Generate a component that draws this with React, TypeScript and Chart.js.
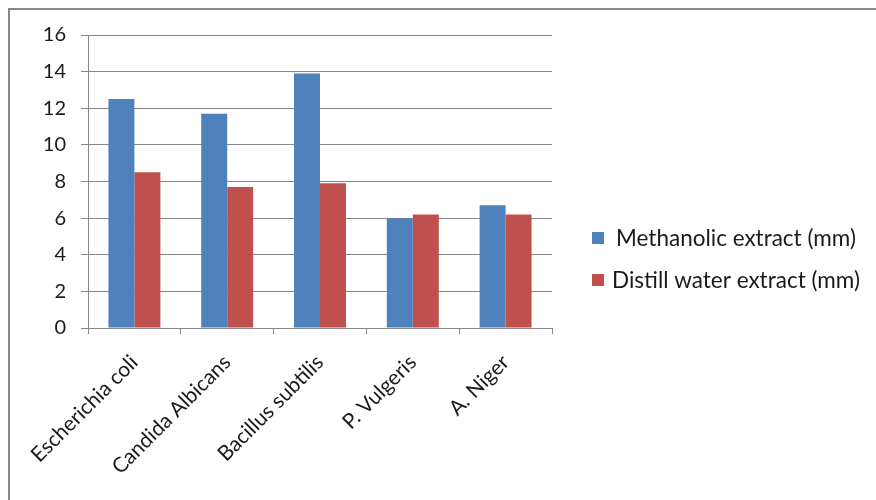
import React, { useEffect, useRef } from "react";
import { Chart, registerables } from "chart.js";

Chart.register(...registerables);

const categories = ["Escherichia coli", "Candida Albicans", "Bacillus subtilis", "P. Vulgeris", "A. Niger"];
const methanolic = [12.5, 11.7, 13.9, 6.0, 6.7];
const distillWater = [8.5, 7.7, 7.9, 6.2, 6.2];
const seriesLabels = ["Methanolic extract (mm)", "Distill water extract (mm)"];
const seriesColors = ["#4F81BD", "#C0504D"];
const yMin = 0;
const yMax = 16;
const yStep = 2;

const FONT = "Lato, 'Open Sans', sans-serif";

const frameAndLegend = {
  id: "frameAndLegend",
  afterDraw(chart: any) {
    const ctx = chart.ctx;
    ctx.save();
    ctx.strokeStyle = "#868686";
    ctx.lineWidth = 2;
    ctx.strokeRect(9, 9, chart.width + 20, chart.height + 20);
    const ds = chart.data.datasets;
    ctx.font = `22.5px ${FONT}`;
    ctx.textBaseline = "middle";
    const ys = [238, 280];
    const tx = [616, 612];
    ds.forEach((d: any, i: number) => {
      ctx.fillStyle = d.backgroundColor;
      ctx.fillRect(592, ys[i] - 6, 12, 12);
      ctx.fillStyle = "#1a1a1a";
      ctx.fillText(d.label, tx[i], ys[i] + 1);
    });
    ctx.restore();
  },
};

export default function App() {
  const ref = useRef<HTMLCanvasElement | null>(null);
  useEffect(() => {
    document.body.style.margin = "0";
    const chart = new Chart(ref.current as HTMLCanvasElement, {
      type: "bar",
      data: {
        labels: categories,
        datasets: [
          { label: seriesLabels[0], data: methanolic, backgroundColor: seriesColors[0], categoryPercentage: 0.56, barPercentage: 1 },
          { label: seriesLabels[1], data: distillWater, backgroundColor: seriesColors[1], categoryPercentage: 0.56, barPercentage: 1 },
        ],
      },
      options: {
        animation: false,
        responsive: false,
        layout: { padding: { left: 0, top: 35, right: 324, bottom: 0 } },
        plugins: { legend: { display: false }, tooltip: { enabled: false } },
        scales: {
          x: {
            afterFit: (s: any) => { s.height = 172; },
            grid: { display: true, drawOnChartArea: false, drawTicks: true, tickLength: 6, color: "#868686", offset: true },
            border: { display: true, color: "#868686", width: 1 },
            ticks: { minRotation: 45, maxRotation: 45, autoSkip: false, color: "#1a1a1a", font: { family: FONT, size: 21 }, padding: 16 },
          },
          y: {
            min: yMin,
            max: yMax,
            afterFit: (s: any) => { s.width = 88; },
            grid: { color: "#868686", tickLength: 7 },
            border: { display: true, color: "#868686", width: 1 },
            ticks: { stepSize: yStep, color: "#1a1a1a", font: { family: FONT, size: 20 }, padding: 15 },
          },
        },
      },
      plugins: [frameAndLegend],
    } as any);
    return () => chart.destroy();
  }, []);
  return <canvas ref={ref} width={876} height={500} style={{ display: "block" }} />;
}
